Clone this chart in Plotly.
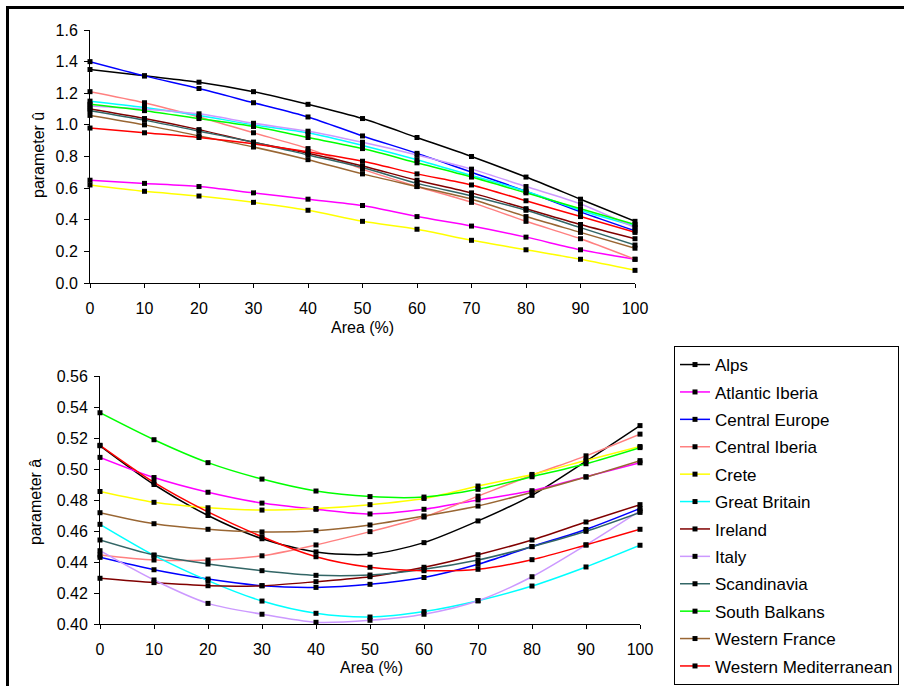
import plotly.graph_objects as go

W, H = 904, 686

area = [0, 10, 20, 30, 40, 50, 60, 70, 80, 90, 100]

regions = ["Alps", "Atlantic Iberia", "Central Europe", "Central Iberia", "Crete",
           "Great Britain", "Ireland", "Italy", "Scandinavia", "South Balkans",
           "Western France", "Western Mediterranean"]

colors = ["#000000", "#FF00FF", "#0000FF", "#FF8080", "#FFFF00", "#00FFFF",
          "#800000", "#CC99FF", "#336666", "#00FF00", "#996633", "#FF0000"]

# parameter u versus area
u_alps = [1.35, 1.31, 1.27, 1.21, 1.13, 1.04, 0.92, 0.80, 0.67, 0.53, 0.39]
u_atlantic_iberia = [0.65, 0.63, 0.61, 0.57, 0.53, 0.49, 0.42, 0.36, 0.29, 0.21, 0.15]
u_central_europe = [1.40, 1.31, 1.23, 1.14, 1.05, 0.93, 0.82, 0.70, 0.58, 0.45, 0.33]
u_central_iberia = [1.21, 1.14, 1.05, 0.95, 0.85, 0.72, 0.61, 0.51, 0.39, 0.28, 0.15]
u_crete = [0.62, 0.58, 0.55, 0.51, 0.46, 0.39, 0.34, 0.27, 0.21, 0.15, 0.08]
u_great_britain = [1.15, 1.11, 1.06, 1.00, 0.95, 0.87, 0.78, 0.68, 0.58, 0.46, 0.36]
u_ireland = [1.10, 1.04, 0.97, 0.89, 0.82, 0.74, 0.65, 0.57, 0.47, 0.37, 0.28]
u_italy = [1.12, 1.10, 1.07, 1.01, 0.96, 0.89, 0.81, 0.72, 0.61, 0.50, 0.35]
u_scandinavia = [1.09, 1.03, 0.96, 0.89, 0.81, 0.73, 0.63, 0.55, 0.46, 0.35, 0.24]
u_south_balkans = [1.13, 1.09, 1.04, 0.99, 0.92, 0.85, 0.76, 0.67, 0.57, 0.47, 0.37]
u_western_france = [1.06, 1.00, 0.93, 0.86, 0.78, 0.69, 0.61, 0.53, 0.42, 0.32, 0.22]
u_western_med = [0.98, 0.95, 0.92, 0.88, 0.83, 0.77, 0.69, 0.62, 0.52, 0.42, 0.32]

# parameter a versus area
a_alps = [0.515, 0.490, 0.470, 0.455, 0.4465, 0.445, 0.4525, 0.4665, 0.483, 0.505, 0.528]
a_atlantic_iberia = [0.5075, 0.4945, 0.485, 0.478, 0.474, 0.471, 0.474, 0.480, 0.486, 0.495, 0.504]
a_central_europe = [0.443, 0.435, 0.429, 0.4247, 0.4236, 0.4256, 0.430, 0.4385, 0.450, 0.461, 0.4745]
a_central_iberia = [0.4445, 0.4413, 0.4413, 0.444, 0.451, 0.4596, 0.469, 0.4825, 0.496, 0.5085, 0.5225]
a_crete = [0.4855, 0.4785, 0.475, 0.4735, 0.4745, 0.477, 0.481, 0.489, 0.4965, 0.5055, 0.5145]
a_great_britain = [0.4643, 0.4443, 0.428, 0.4148, 0.4069, 0.4045, 0.408, 0.415, 0.4245, 0.4368, 0.4508]
a_ireland = [0.4295, 0.4267, 0.4247, 0.4247, 0.4273, 0.4305, 0.4366, 0.4447, 0.4542, 0.4658, 0.477]
a_italy = [0.4473, 0.4284, 0.4133, 0.4063, 0.4011, 0.4024, 0.4063, 0.4150, 0.4305, 0.451, 0.473]
a_scandinavia = [0.4542, 0.4445, 0.4387, 0.4344, 0.4314, 0.4316, 0.4353, 0.4413, 0.4499, 0.4598, 0.472]
a_south_balkans = [0.5363, 0.5189, 0.5041, 0.4935, 0.4858, 0.4822, 0.4819, 0.4869, 0.495, 0.5034, 0.5138]
a_western_france = [0.4718, 0.4647, 0.4611, 0.4594, 0.4602, 0.4639, 0.4697, 0.4761, 0.485, 0.4948, 0.5054]
a_western_med = [0.5153, 0.4914, 0.4723, 0.4563, 0.4434, 0.4366, 0.4344, 0.4353, 0.4415, 0.451, 0.4611]

u_series = [u_alps, u_atlantic_iberia, u_central_europe, u_central_iberia, u_crete,
            u_great_britain, u_ireland, u_italy, u_scandinavia, u_south_balkans,
            u_western_france, u_western_med]
a_series = [a_alps, a_atlantic_iberia, a_central_europe, a_central_iberia, a_crete,
            a_great_britain, a_ireland, a_italy, a_scandinavia, a_south_balkans,
            a_western_france, a_western_med]

FONT = "Liberation Sans, Arial, sans-serif"


def px_x(p):
    return p / W


def px_y(p):
    return 1 - p / H


fig = go.Figure()

for name, col, u, a in zip(regions, colors, u_series, a_series):
    common = dict(
        mode="lines+markers",
        line=dict(color=col, width=1.5, shape="spline", smoothing=0.8),
        marker=dict(symbol="square", size=5, color="black"),
        cliponaxis=False,
        name=name,
        legendgroup=name,
    )
    fig.add_trace(go.Scatter(x=area, y=u, xaxis="x", yaxis="y", showlegend=False, **common))
    fig.add_trace(go.Scatter(x=area, y=a, xaxis="x2", yaxis="y2", showlegend=True, **common))

axis_common = dict(
    showline=True, linecolor="black", linewidth=1,
    ticks="outside", tickcolor="black", tickwidth=1,
    showgrid=False, zeroline=False,
    tickfont=dict(family=FONT, size=16, color="black"),
    automargin=False,
)
x_common = dict(range=[0, 100], dtick=10, ticklen=4, ticklabelstandoff=7, **axis_common)
y_common = dict(ticklen=5, ticklabelstandoff=3, **axis_common)

fig.update_layout(
    width=W, height=H,
    margin=dict(l=0, r=0, t=0, b=0),
    paper_bgcolor="white", plot_bgcolor="white",
    font=dict(family=FONT, size=16, color="black"),
    xaxis=dict(domain=[px_x(90), px_x(635)], anchor="y", **x_common),
    yaxis=dict(domain=[px_y(283), px_y(30)], range=[0, 1.6], dtick=0.2,
               tickformat=".1f", anchor="x", **y_common),
    xaxis2=dict(domain=[px_x(100), px_x(640)], anchor="y2", **x_common),
    yaxis2=dict(domain=[px_y(624), px_y(376)], range=[0.40, 0.56], dtick=0.02,
                tickformat=".2f", anchor="x2", **y_common),
    legend=dict(
        x=px_x(674), y=px_y(346), xanchor="left", yanchor="top",
        bordercolor="black", borderwidth=1, bgcolor="white",
        font=dict(family=FONT, size=17, color="black"),
        traceorder="grouped", tracegroupgap=2.3,
    ),
    showlegend=True,
)

annotations = [
    dict(text="Area (%)", x=px_x(362), y=px_y(328)),
    dict(text="Area (%)", x=px_x(371), y=px_y(667)),
    dict(text="parameter û", x=px_x(39), y=px_y(155), textangle=-90),
    dict(text="parameter â", x=px_x(35), y=px_y(502), textangle=-90),
]
for ann in annotations:
    fig.add_annotation(xref="paper", yref="paper", showarrow=False,
                       xanchor="center", yanchor="middle",
                       font=dict(family=FONT, size=16, color="black"), **ann)

# outer frame along the top and left edges
fig.add_shape(type="line", xref="paper", yref="paper",
              x0=px_x(6), x1=px_x(904), y0=px_y(7.5), y1=px_y(7.5),
              line=dict(color="black", width=3))
fig.add_shape(type="line", xref="paper", yref="paper",
              x0=px_x(7.5), x1=px_x(7.5), y0=px_y(6), y1=px_y(686),
              line=dict(color="black", width=3))

fig.write_html("out.html")
